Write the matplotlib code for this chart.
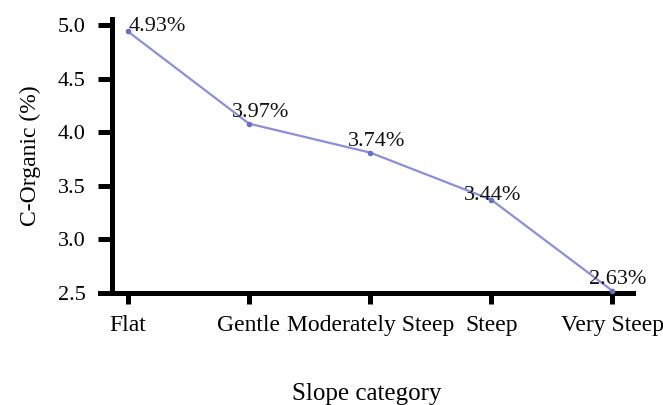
import matplotlib
matplotlib.use('Agg')
import matplotlib.pyplot as plt
import numpy as np

categories = ['Flat', 'Gentle', 'Moderately Steep', 'Steep', 'Very Steep']
c_organic = [4.94, 4.08, 3.81, 3.37, 2.52]
value_labels = ['4.93%', '3.97%', '3.74%', '3.44%', '2.63%']
yticks = [2.5, 3.0, 3.5, 4.0, 4.5, 5.0]

# label offsets in pixels (dx, dy up) from each point
label_offsets = [(1, 0), (-17, 7), (-22, 7), (-27, 0), (-23, 7)]

plt.rcParams['font.family'] = ['Liberation Serif', 'DejaVu Serif']

dpi = 100
fig = plt.figure(figsize=(6.63, 4.05), dpi=dpi)
ax = fig.add_axes([100 / 663, 112 / 405, 533 / 663, 274 / 405])

for side in ['top', 'right']:
    ax.spines[side].set_visible(False)
ax.spines['left'].set_position(('data', -0.13))
ax.spines['left'].set_linewidth(3.6)
ax.spines['bottom'].set_linewidth(3.6)

x = np.arange(len(categories))
ax.plot(x, c_organic, color='#8a8fdc', lw=1.6, marker='o', ms=3,
        mfc='#6a6fc4', mec='#6a6fc4', zorder=3, clip_on=False)

for xi, yi, lab, (dx, dy) in zip(x, c_organic, value_labels, label_offsets):
    ax.annotate(lab, (xi, yi), xytext=(dx * 72 / dpi, dy * 72 / dpi),
                textcoords='offset points', ha='left', va='baseline',
                fontsize=16, color='#111111', zorder=4)

ax.set_xlim(-0.23, 4.17)
ax.set_ylim(2.5, 5.056)
ax.set_xticks(x)
ax.set_xticklabels(categories)
ax.set_yticks(yticks)
ax.set_yticklabels(['{:.1f}'.format(t) for t in yticks])
ax.tick_params(axis='x', width=3.6, length=8, color='black', pad=8,
               labelsize=17)
ax.tick_params(axis='y', width=3.6, length=10, color='black', pad=9,
               labelsize=16)

ax.set_xlabel('Slope category', fontsize=18, labelpad=34)
ax.set_ylabel('C-Organic (%)', fontsize=17, labelpad=12)

fig.savefig('out.png', dpi=dpi)
